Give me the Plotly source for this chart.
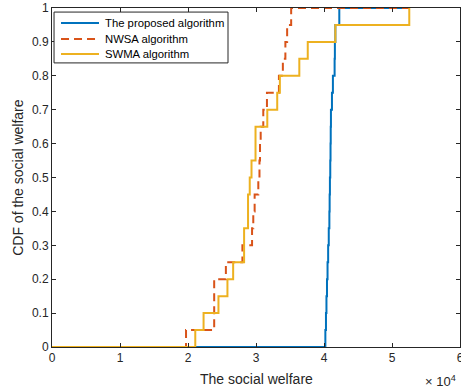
import plotly.graph_objects as go

# CDF levels (fraction of samples)
cdf_levels = [0.05, 0.10, 0.15, 0.20, 0.25, 0.30, 0.35, 0.40, 0.45, 0.50,
              0.55, 0.60, 0.65, 0.70, 0.75, 0.80, 0.85, 0.90, 0.95, 1.00]

# sorted social-welfare samples for each algorithm
proposed_x = [40200, 40290, 40360, 40440, 40520, 40610, 40700, 40790, 40830, 40870,
              40920, 40960, 40990, 41020, 41170, 41310, 41560, 41600, 41670, 42250]
nwsa_x = [19710, 23850, 23850, 23850, 25570, 28000, 29420, 29600, 29800, 30340,
          30510, 30590, 30690, 31070, 31610, 33370, 33950, 34320, 34580, 35170]
swma_x = [21070, 22290, 24480, 25800, 26640, 28250, 28250, 28830, 28830, 29080,
          29340, 29930, 29930, 31660, 33120, 33510, 36370, 37610, 41670, 52540]

x_start = 0
x_end = 52540

series_names = ["The proposed algorithm", "NWSA algorithm", "SWMA algorithm"]
series_colors = ["#0072BD", "#D95319", "#EDB120"]
series_dash = ["solid", "8px,5px", "solid"]

x_tick_vals = [0, 10000, 20000, 30000, 40000, 50000, 60000]
x_tick_text = ["0", "1", "2", "3", "4", "5", "6"]
y_tick_vals = [0, 0.1, 0.2, 0.3, 0.4, 0.5, 0.6, 0.7, 0.8, 0.9, 1]
y_tick_text = ["0", "0.1", "0.2", "0.3", "0.4", "0.5", "0.6", "0.7", "0.8", "0.9", "1"]

x_title = "The social welfare"
y_title = "CDF of the social welfare"

FONT = "Liberation Sans, Arial, Helvetica, sans-serif"
TXT = "#262626"

fig = go.Figure()
for name, xs, color, dash in zip(series_names, [proposed_x, nwsa_x, swma_x],
                                 series_colors, series_dash):
    fig.add_trace(go.Scatter(
        x=[x_start] + xs + [x_end],
        y=[0] + cdf_levels + [1.0],
        mode="lines",
        line=dict(color=color, width=2, dash=dash, shape="hv"),
        name=name,
    ))

axis_common = dict(
    showgrid=False, zeroline=False, showline=True, mirror="ticks",
    linecolor=TXT, linewidth=1, ticks="inside", ticklen=4,
    tickcolor=TXT, tickfont=dict(family=FONT, size=12, color=TXT),
    automargin=False, ticklabeloverflow="allow",
)

fig.update_layout(
    width=461, height=390,
    margin=dict(l=52, r=1, t=8, b=43),
    paper_bgcolor="white", plot_bgcolor="white",
    font=dict(family=FONT, color=TXT),
    xaxis=dict(range=[0, 60000], tickvals=x_tick_vals, ticktext=x_tick_text, **axis_common),
    yaxis=dict(range=[0, 1], tickvals=y_tick_vals, ticktext=y_tick_text, **axis_common),
    showlegend=False,
)

# compact MATLAB-style legend box (top-left, inside the axes)
fig.add_shape(type="rect", xref="paper", yref="paper", x0=0.005, x1=0.4314,
              y0=0.838, y1=0.988, fillcolor="white", line=dict(color=TXT, width=1),
              layer="above")
legend_rows_y = [0.9558, 0.9086, 0.8643]
for name, color, dash, yy in zip(series_names, series_colors, series_dash, legend_rows_y):
    fig.add_shape(type="line", xref="paper", yref="paper", x0=0.0221, x1=0.1152,
                  y0=yy, y1=yy, line=dict(color=color, width=2, dash=dash), layer="above")
    fig.add_annotation(text=name, xref="paper", yref="paper", x=0.124, y=yy,
                       xanchor="left", yanchor="middle", showarrow=False,
                       font=dict(family=FONT, size=11.3, color="#000000"))

fig.add_annotation(text=x_title, xref="paper", yref="paper", x=0.5, y=-0.094,
                   xanchor="center", yanchor="middle", showarrow=False,
                   font=dict(family=FONT, size=14, color=TXT))
fig.add_annotation(text=y_title, xref="paper", yref="paper", x=-0.085, y=0.5,
                   xanchor="center", yanchor="middle", textangle=-90, showarrow=False,
                   font=dict(family=FONT, size=14, color=TXT))
fig.add_annotation(text="× 10<sup>4</sup>", xref="paper", yref="paper",
                   x=0.9955, y=-0.072, xanchor="right", yanchor="top", showarrow=False,
                   font=dict(family=FONT, size=13, color=TXT))

fig.write_html("out.html", config={"displayModeBar": False},
               post_script="document.body.style.margin='0';document.body.style.overflow='hidden';")
